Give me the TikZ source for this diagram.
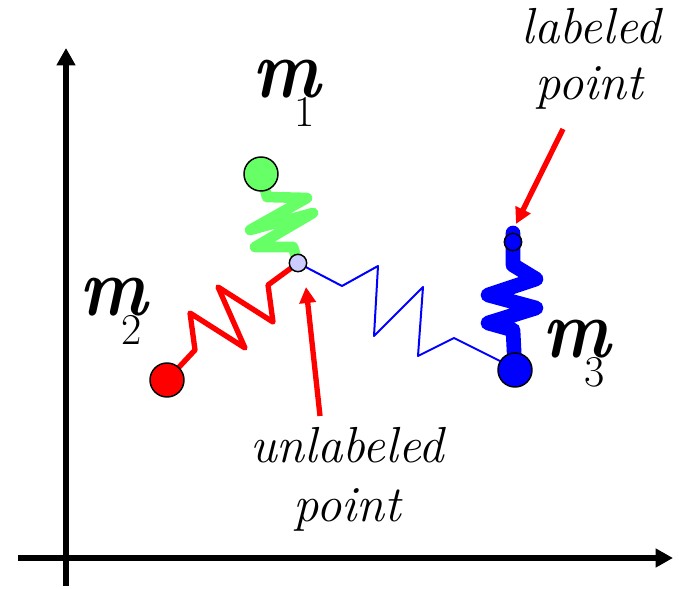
\documentclass[tikz,border=0pt]{standalone}
\usepackage{fontspec}
\usepackage{graphicx}
\usetikzlibrary{arrows.meta}
\definecolor{springgreen}{RGB}{102,255,102}
\definecolor{pointlav}{RGB}{204,204,255}
\newcommand{\massname}[1]{\scalebox{1}[1.15]{\fontsize{54}{54}\selectfont\bfseries\itshape m}\kern-19pt\raisebox{-22pt}{\fontsize{33}{33}\selectfont #1}}
\begin{document}
\begin{tikzpicture}[x=0.75pt,y=-0.75pt,line join=round,line cap=round,
  ball/.style={circle,draw=black,line width=1.1pt,minimum size=25.5pt,inner sep=0pt},
  joint/.style={circle,draw=black,line width=1.1pt,minimum size=13pt,inner sep=0pt},
  pointer/.style={red,line width=4pt,line cap=butt,-{Triangle[length=12pt,width=12pt]}},
  axis/.style={line width=4.5pt,line cap=butt,-{Triangle[length=13pt,width=13.5pt]}},
  caption/.style={font=\fontsize{38}{44}\selectfont\itshape,inner sep=0pt,anchor=base},
  masslab/.style={inner sep=0pt,anchor=base west}]
\useasboundingbox (0,0) rectangle (679,589);
% Points
\coordinate (c1) at (261,174);
\coordinate (c2) at (167,380);
\coordinate (c3) at (515,370);
\coordinate (j) at (298,263);
\coordinate (lp) at (513,242);
% Axes
\coordinate (o1) at (66,586);
\coordinate (yend) at (66,48);
\coordinate (o2) at (18,558);
\coordinate (xend) at (673,558);
\draw[axis] (o1) -- (yend);
\draw[axis] (o2) -- (xend);
% Springs
\draw[blue,line width=1.5pt] (j) -- (342,286) -- (378,266) -- (374,336) -- (423,287)
  -- (418,356) -- (454,338) -- (502,362) -- (c3);
\draw[red,line width=4pt] (c2) -- (195,350) -- (190,313) -- (245,348) -- (218,287)
  -- (273,322) -- (268,285) -- (j);
\draw[springgreen,line width=8pt] (c1) -- (267,197) -- (307,198) -- (250,230) -- (313,213)
  -- (255,247) -- (293,247) -- (j);
\draw[blue,line width=11pt] (513,233) -- (lp) -- (513,265) -- (536,279) -- (488,295)
  -- (536,308) -- (488,323) -- (513,330) -- (c3);
% Masses
\node[ball,fill=springgreen] (m1) at (c1) {};
\node[ball,fill=red] (m2) at (c2) {};
\node[ball,fill=blue] (m3) at (c3) {};
\node[joint,fill=pointlav] (free) at (j) {};
\node[joint,fill=blue] (fixed) at (lp) {};
\node[masslab] (m1lab) at (252,97) {\massname{1}};
\node[masslab] (m2lab) at (79,315) {\massname{2}};
\node[masslab] (m3lab) at (542,357) {\massname{3}};
% Labels
\node[caption] (lab1) at (591,43) {labeled};
\node[caption] (lab2) at (589,99) {point};
\node[caption] (unlab1) at (347,462) {unlabeled};
\node[caption] (unlab2) at (347,521) {point};
\coordinate (lstart) at (563,129);
\coordinate (ltip) at (516,224);
\coordinate (ustart) at (320,416);
\coordinate (utip) at (306,287);
\draw[pointer] (lstart) -- (ltip);
\draw[pointer] (ustart) -- (utip);
\end{tikzpicture}
\end{document}
